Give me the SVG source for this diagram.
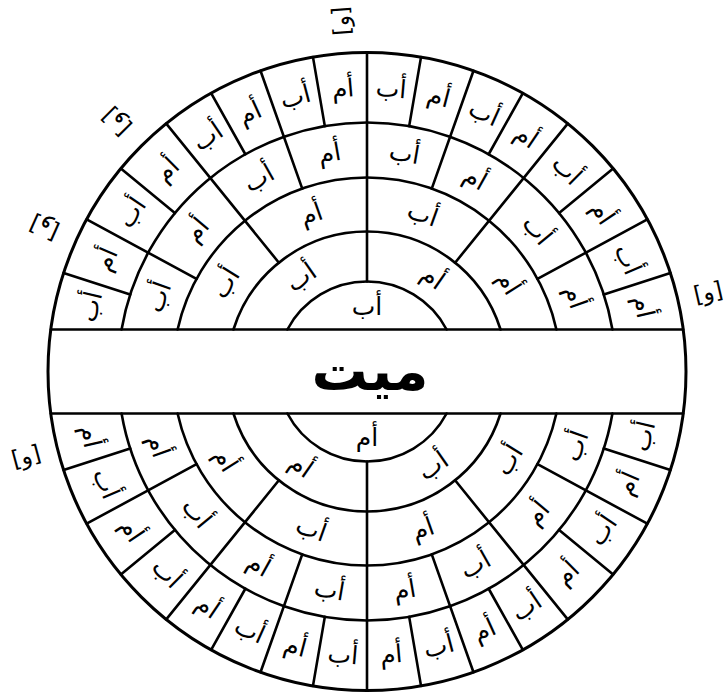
<svg xmlns="http://www.w3.org/2000/svg" width="727" height="696" viewBox="0 0 727 696">
<style>
.ln{fill:none;stroke:#000;stroke-width:2.6;stroke-linecap:round}
.outer{fill:none;stroke:#000;stroke-width:3}
.lbl{font-family:"DejaVu Sans",sans-serif;font-size:25px;text-anchor:middle;dominant-baseline:central;fill:#000}
.br{font-family:"DejaVu Sans",sans-serif;font-size:23px;text-anchor:middle;dominant-baseline:central;fill:#000}
.main{font-family:"DejaVu Sans",sans-serif;font-size:56px;font-weight:bold;text-anchor:middle;dominant-baseline:central;fill:#000}
</style>
<rect width="727" height="696" fill="#fff"/>
<g id="connectors">
<circle class="outer" cx="367" cy="371.5" r="319"/>
<path class="ln" d="M50.77 329.5H683.23M50.77 413.5H683.23"/>
<path class="ln" d="M287.4 329.5A90 90 0 0 1 446.6 329.5M287.4 413.5A90 90 0 0 0 446.6 413.5"/>
<path class="ln" d="M233.45 329.5A140 140 0 0 1 500.55 329.5M233.45 413.5A140 140 0 0 0 500.55 413.5"/>
<path class="ln" d="M177.6 329.5A194 194 0 0 1 556.4 329.5M177.6 413.5A194 194 0 0 0 556.4 413.5"/>
<path class="ln" d="M121.57 329.5A249 249 0 0 1 612.43 329.5M121.57 413.5A249 249 0 0 0 612.43 413.5"/>
<path class="ln" d="M367 281.5V52.5M367 461.5V690.5"/>
<path class="ln" d="M455.1 262.7L567.75 123.59M278.9 262.7L166.25 123.59M455.1 480.3L567.75 619.41M278.9 480.3L166.25 619.41"/>
<path class="ln" d="M431.76 188.63L473.49 70.8M302.24 188.63L260.51 70.8M431.76 554.37L473.49 672.2M302.24 554.37L260.51 672.2"/>
<path class="ln" d="M537.49 278.93L647.34 219.29M196.51 278.93L86.66 219.29M537.49 464.07L647.34 523.71M196.51 464.07L86.66 523.71"/>
<path class="ln" d="M409.17 126.1L421.02 57.11M324.83 126.1L312.98 57.11M409.17 616.9L421.02 685.89M324.83 616.9L312.98 685.89"/>
<path class="ln" d="M488.67 154.25L522.87 93.17M245.33 154.25L211.13 93.17M488.67 588.75L522.87 649.83M245.33 588.75L211.13 649.83"/>
<path class="ln" d="M559.13 213.12L613.15 168.59M174.87 213.12L120.85 168.59M559.13 529.88L613.15 574.41M174.87 529.88L120.85 574.41"/>
<path class="ln" d="M603.81 294.55L670.39 272.92M130.19 294.55L63.61 272.92M603.81 448.45L670.39 470.08M130.19 448.45L63.61 470.08"/>
</g>
<g id="deceased"><text class="main" x="370" y="370">ميت</text></g>
<g id="t1"><text class="lbl" x="367" y="306">أب</text></g>
<g id="b1"><text class="lbl" x="367" y="437.5">أم</text></g>
<g id="t2-l" transform="translate(301.04,277.29) rotate(-35)"><text class="lbl">أب</text></g>
<g id="t2-r" transform="translate(432.96,277.29) rotate(35)"><text class="lbl">أم</text></g>
<g id="b2-l" transform="translate(301.04,465.71) rotate(35)"><text class="lbl">أم</text></g>
<g id="b2-r" transform="translate(432.96,465.71) rotate(-35)"><text class="lbl">أب</text></g>
<g id="t3-1" transform="translate(225.38,283) rotate(-58)"><text class="lbl">أب</text></g>
<g id="t3-2" transform="translate(311.25,214.09) rotate(-19.5)"><text class="lbl">أم</text></g>
<g id="t3-3" transform="translate(422.75,214.09) rotate(19.5)"><text class="lbl">أب</text></g>
<g id="t3-4" transform="translate(508.62,283) rotate(58)"><text class="lbl">أم</text></g>
<g id="b3-1" transform="translate(225.38,460) rotate(58)"><text class="lbl">أم</text></g>
<g id="b3-2" transform="translate(311.25,528.91) rotate(19.5)"><text class="lbl">أب</text></g>
<g id="b3-3" transform="translate(422.75,528.91) rotate(-19.5)"><text class="lbl">أم</text></g>
<g id="b3-4" transform="translate(508.62,460) rotate(-58)"><text class="lbl">أب</text></g>
<g id="t4-1" transform="translate(158.4,297.02) rotate(-70.35)"><text class="lbl">أب</text></g>
<g id="t4-2" transform="translate(196.66,229.91) rotate(-50.25)"><text class="lbl">أم</text></g>
<g id="t4-3" transform="translate(258.77,178.24) rotate(-29.25)"><text class="lbl">أب</text></g>
<g id="t4-4" transform="translate(329.49,153.2) rotate(-9.75)"><text class="lbl">أم</text></g>
<g id="t4-5" transform="translate(404.51,153.2) rotate(9.75)"><text class="lbl">أب</text></g>
<g id="t4-6" transform="translate(475.23,178.24) rotate(29.25)"><text class="lbl">أم</text></g>
<g id="t4-7" transform="translate(537.34,229.91) rotate(50.25)"><text class="lbl">أب</text></g>
<g id="t4-8" transform="translate(575.6,297.02) rotate(70.35)"><text class="lbl">أم</text></g>
<g id="b4-1" transform="translate(158.4,445.98) rotate(70.35)"><text class="lbl">أم</text></g>
<g id="b4-2" transform="translate(196.66,513.09) rotate(50.25)"><text class="lbl">أب</text></g>
<g id="b4-3" transform="translate(258.77,564.76) rotate(29.25)"><text class="lbl">أم</text></g>
<g id="b4-4" transform="translate(329.49,589.8) rotate(9.75)"><text class="lbl">أب</text></g>
<g id="b4-5" transform="translate(404.51,589.8) rotate(-9.75)"><text class="lbl">أم</text></g>
<g id="b4-6" transform="translate(475.23,564.76) rotate(-29.25)"><text class="lbl">أب</text></g>
<g id="b4-7" transform="translate(537.34,513.09) rotate(-50.25)"><text class="lbl">أم</text></g>
<g id="b4-8" transform="translate(575.6,445.98) rotate(-70.35)"><text class="lbl">أب</text></g>
<g id="t5-1" transform="translate(90.5,306.65) rotate(-76.8)"><text class="lbl">أب</text></g>
<g id="t5-2" transform="translate(106.06,259.39) rotate(-66.75)"><text class="lbl">أم</text></g>
<g id="t5-3" transform="translate(131.55,212.69) rotate(-56)"><text class="lbl">أب</text></g>
<g id="t5-4" transform="translate(167.06,169.81) rotate(-44.75)"><text class="lbl">أم</text></g>
<g id="t5-5" transform="translate(207.66,136.41) rotate(-34.125)"><text class="lbl">أب</text></g>
<g id="t5-6" transform="translate(249.78,112.82) rotate(-24.375)"><text class="lbl">أم</text></g>
<g id="t5-7" transform="translate(295.3,96.7) rotate(-14.625)"><text class="lbl">أب</text></g>
<g id="t5-8" transform="translate(342.87,88.53) rotate(-4.875)"><text class="lbl">أم</text></g>
<g id="t5-9" transform="translate(391.13,88.53) rotate(4.875)"><text class="lbl">أب</text></g>
<g id="t5-10" transform="translate(438.7,96.7) rotate(14.625)"><text class="lbl">أم</text></g>
<g id="t5-11" transform="translate(484.22,112.82) rotate(24.375)"><text class="lbl">أب</text></g>
<g id="t5-12" transform="translate(526.34,136.41) rotate(34.125)"><text class="lbl">أم</text></g>
<g id="t5-13" transform="translate(566.94,169.81) rotate(44.75)"><text class="lbl">أب</text></g>
<g id="t5-14" transform="translate(602.45,212.69) rotate(56)"><text class="lbl">أم</text></g>
<g id="t5-15" transform="translate(627.94,259.39) rotate(66.75)"><text class="lbl">أب</text></g>
<g id="t5-16" transform="translate(643.5,306.65) rotate(76.8)"><text class="lbl">أم</text></g>
<g id="b5-1" transform="translate(90.5,436.35) rotate(76.8)"><text class="lbl">أم</text></g>
<g id="b5-2" transform="translate(106.06,483.61) rotate(66.75)"><text class="lbl">أب</text></g>
<g id="b5-3" transform="translate(131.55,530.31) rotate(56)"><text class="lbl">أم</text></g>
<g id="b5-4" transform="translate(167.06,573.19) rotate(44.75)"><text class="lbl">أب</text></g>
<g id="b5-5" transform="translate(207.66,606.59) rotate(34.125)"><text class="lbl">أم</text></g>
<g id="b5-6" transform="translate(249.78,630.18) rotate(24.375)"><text class="lbl">أب</text></g>
<g id="b5-7" transform="translate(295.3,646.3) rotate(14.625)"><text class="lbl">أم</text></g>
<g id="b5-8" transform="translate(342.87,654.47) rotate(4.875)"><text class="lbl">أب</text></g>
<g id="b5-9" transform="translate(391.13,654.47) rotate(-4.875)"><text class="lbl">أم</text></g>
<g id="b5-10" transform="translate(438.7,646.3) rotate(-14.625)"><text class="lbl">أب</text></g>
<g id="b5-11" transform="translate(484.22,630.18) rotate(-24.375)"><text class="lbl">أم</text></g>
<g id="b5-12" transform="translate(526.34,606.59) rotate(-34.125)"><text class="lbl">أب</text></g>
<g id="b5-13" transform="translate(566.94,573.19) rotate(-44.75)"><text class="lbl">أم</text></g>
<g id="b5-14" transform="translate(602.45,530.31) rotate(-56)"><text class="lbl">أب</text></g>
<g id="b5-15" transform="translate(627.94,483.61) rotate(-66.75)"><text class="lbl">أم</text></g>
<g id="b5-16" transform="translate(643.5,436.35) rotate(-76.8)"><text class="lbl">أب</text></g>
<g id="mark-top" transform="translate(341,21) rotate(-94)"><text class="br">[و]</text></g>
<g id="mark-ul1" transform="translate(116,122) rotate(225)"><text class="br">[و]</text></g>
<g id="mark-ul2" transform="translate(44,228) rotate(204)"><text class="br">[و]</text></g>
<g id="mark-r" transform="translate(708,292) rotate(-13)"><text class="br">[و]</text></g>
<g id="mark-bl" transform="translate(26,456) rotate(-15)"><text class="br">[و]</text></g>
</svg>
